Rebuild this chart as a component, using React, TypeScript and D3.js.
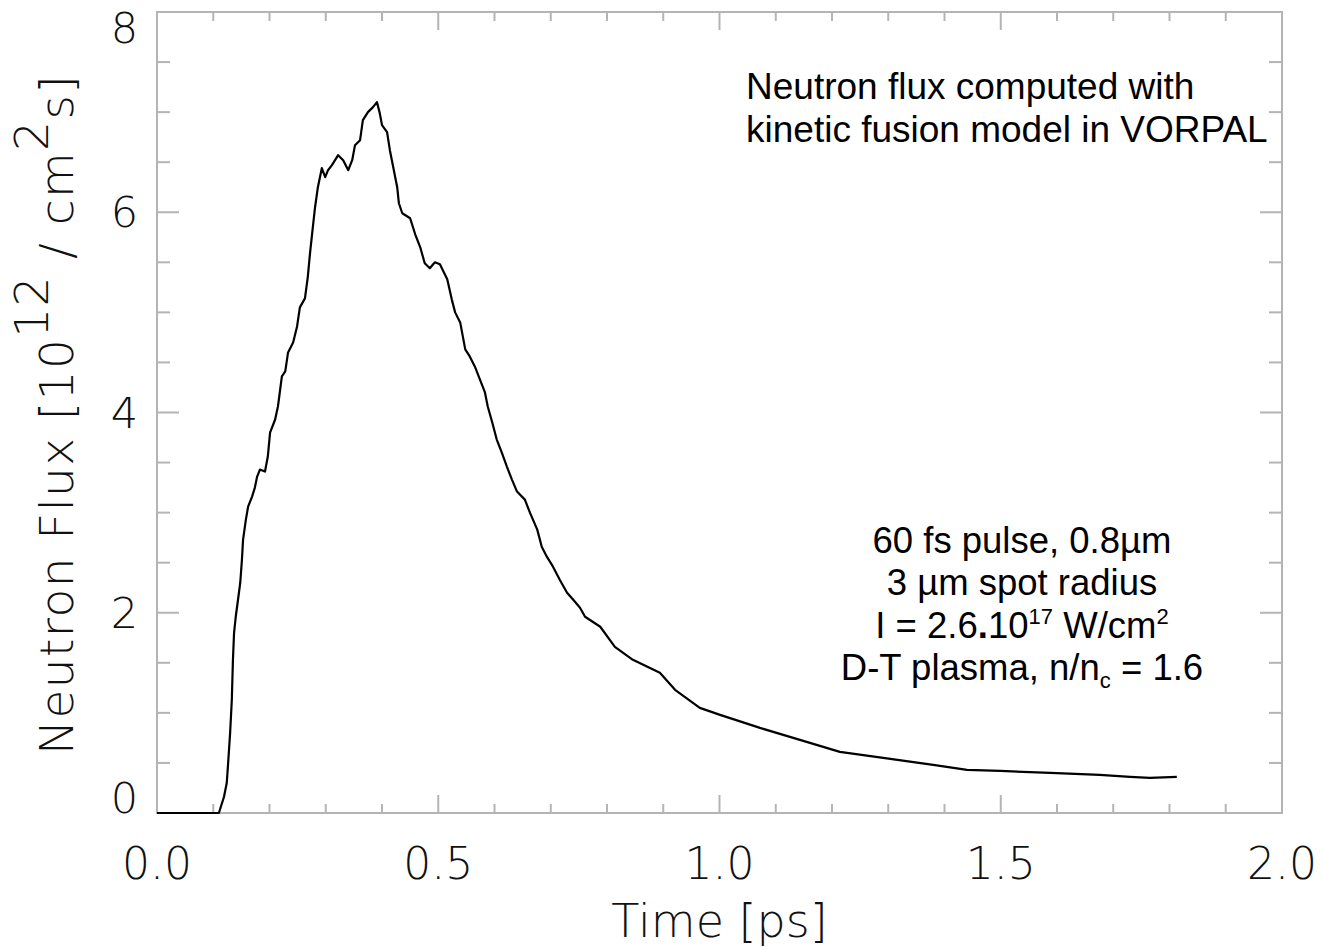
import React from "react";
import * as d3 from "d3";

const timePs = [0.0, 0.110, 0.119, 0.124, 0.126, 0.130, 0.133, 0.135, 0.137, 0.140, 0.144, 0.148, 0.151, 0.153, 0.158, 0.162, 0.169, 0.174, 0.178, 0.183, 0.192, 0.197, 0.201, 0.210, 0.215, 0.222, 0.228, 0.233, 0.242, 0.249, 0.254, 0.263, 0.268, 0.272, 0.277, 0.281, 0.286, 0.293, 0.299, 0.304, 0.311, 0.322, 0.331, 0.340, 0.347, 0.352, 0.361, 0.366, 0.375, 0.384, 0.391, 0.396, 0.400, 0.409, 0.414, 0.420, 0.427, 0.430, 0.436, 0.450, 0.459, 0.468, 0.476, 0.485, 0.494, 0.503, 0.516, 0.524, 0.530, 0.539, 0.548, 0.556, 0.565, 0.574, 0.583, 0.588, 0.596, 0.604, 0.613, 0.622, 0.631, 0.640, 0.654, 0.663, 0.676, 0.684, 0.693, 0.704, 0.716, 0.729, 0.740, 0.752, 0.761, 0.788, 0.814, 0.846, 0.894, 0.921, 0.965, 1.001, 1.072, 1.143, 1.214, 1.291, 1.380, 1.440, 1.499, 1.588, 1.676, 1.730, 1.765, 1.813];
const fluxValues = [0, 0, 0.16, 0.30, 0.46, 0.80, 1.13, 1.53, 1.80, 1.96, 2.13, 2.30, 2.53, 2.73, 2.93, 3.06, 3.16, 3.25, 3.36, 3.43, 3.41, 3.56, 3.80, 3.93, 4.06, 4.36, 4.41, 4.60, 4.70, 4.86, 5.05, 5.14, 5.35, 5.59, 5.85, 6.05, 6.25, 6.44, 6.35, 6.42, 6.47, 6.57, 6.52, 6.42, 6.52, 6.67, 6.72, 6.92, 7.00, 7.05, 7.10, 6.99, 6.87, 6.80, 6.62, 6.45, 6.25, 6.09, 5.99, 5.94, 5.78, 5.65, 5.49, 5.44, 5.50, 5.48, 5.33, 5.13, 5.00, 4.90, 4.63, 4.56, 4.46, 4.33, 4.20, 4.06, 3.90, 3.73, 3.60, 3.46, 3.33, 3.21, 3.13, 3.00, 2.83, 2.66, 2.56, 2.46, 2.33, 2.20, 2.13, 2.05, 1.96, 1.86, 1.66, 1.53, 1.40, 1.23, 1.05, 0.98, 0.85, 0.73, 0.61, 0.55, 0.48, 0.43, 0.42, 0.40, 0.38, 0.36, 0.35, 0.36];

const xMajorTicks = [0, 0.5, 1.0, 1.5, 2.0];
const xTickLabels = ["0.0", "0.5", "1.0", "1.5", "2.0"];
const yMajorTicks = [0, 2, 4, 6, 8];
const yTickLabels = ["0", "2", "4", "6", "8"];

const W = 1322, H = 949;
const L = 157, R = 1282, T = 12, B = 813;
const AX = "#b4b4b4";
const tickFont = "'DejaVu Sans', sans-serif";
const annFont = "'Liberation Sans', Arial, sans-serif";

export default function App() {
  const x = d3.scaleLinear().domain([0, 2]).range([L, R]);
  const y = d3.scaleLinear().domain([0, 8]).range([B, T]);
  const data = timePs.map((t, i) => [t, fluxValues[i]] as [number, number]);
  const line = d3.line<[number, number]>().x(d => x(d[0])).y(d => y(d[1]));

  const xMinor = d3.range(0, 2.0001, 0.1).filter(v => Math.abs(v * 2 - Math.round(v * 2)) > 1e-6);
  const yMinor = d3.range(0, 8.0001, 0.5).filter(v => Math.abs(v / 2 - Math.round(v / 2)) > 1e-6);

  return (
    <svg width={W} height={H} style={{ position: "absolute", left: 0, top: 0, background: "#fff" }}>
      <rect x={L} y={T} width={R - L} height={B - T} fill="none" stroke={AX} strokeWidth={2} />
      {xMajorTicks.map(v => (
        <g key={"xm" + v}>
          <line x1={x(v)} x2={x(v)} y1={B} y2={B - 18} stroke={AX} strokeWidth={2} />
          <line x1={x(v)} x2={x(v)} y1={T} y2={T + 18} stroke={AX} strokeWidth={2} />
        </g>
      ))}
      {xMinor.map(v => (
        <g key={"xn" + v}>
          <line x1={x(v)} x2={x(v)} y1={B} y2={B - 9} stroke={AX} strokeWidth={2} />
          <line x1={x(v)} x2={x(v)} y1={T} y2={T + 9} stroke={AX} strokeWidth={2} />
        </g>
      ))}
      {yMajorTicks.map(v => (
        <g key={"ym" + v}>
          <line x1={L} x2={L + 22} y1={y(v)} y2={y(v)} stroke={AX} strokeWidth={2} />
          <line x1={R} x2={R - 22} y1={y(v)} y2={y(v)} stroke={AX} strokeWidth={2} />
        </g>
      ))}
      {yMinor.map(v => (
        <g key={"yn" + v}>
          <line x1={L} x2={L + 13} y1={y(v)} y2={y(v)} stroke={AX} strokeWidth={2} />
          <line x1={R} x2={R - 13} y1={y(v)} y2={y(v)} stroke={AX} strokeWidth={2} />
        </g>
      ))}
      {xMajorTicks.map((v, i) => (
        <text key={"xl" + v} x={x(v)} y={879} textAnchor="middle" fontFamily={tickFont} fontWeight={200} fontSize={44} fill="#111">{xTickLabels[i]}</text>
      ))}
      {yMajorTicks.map((v, i) => {
        let yy = y(v) + 15;
        if (i === 0) yy = B;
        if (i === yMajorTicks.length - 1) yy = T + 31;
        return <text key={"yl" + v} x={138} y={yy} textAnchor="end" fontFamily={tickFont} fontWeight={200} fontSize={43} fill="#111">{yTickLabels[i]}</text>;
      })}
      <text x={(L + R) / 2} y={937} textAnchor="middle" fontFamily={tickFont} fontWeight={200} fontSize={46} fill="#111">Time [ps]</text>
      <text transform={`translate(73, ${(T + B) / 2 + 2}) rotate(-90)`} textAnchor="middle" fontFamily={tickFont} fontWeight={200} fontSize={47} letterSpacing={1.4} fill="#111">
        Neutron Flux [10<tspan dy={-25}>12</tspan><tspan dy={25}>{"\u00a0/\u00a0cm"}</tspan><tspan dy={-25}>2</tspan><tspan dy={25}>s]</tspan>
      </text>
      <path d={line(data) || ""} fill="none" stroke="#000" strokeWidth={2.2} strokeLinejoin="round" />
      <text x={746} y={99} fontFamily={annFont} fontSize={37} fill="#000">Neutron flux computed with</text>
      <text x={746} y={142} fontFamily={annFont} fontSize={37} fill="#000">kinetic fusion model in VORPAL</text>
      <g fontFamily={annFont} fontSize={36.5} fill="#000" textAnchor="middle">
        <text x={1022} y={553}>60 fs pulse, 0.8µm</text>
        <text x={1022} y={595}>3 µm spot radius</text>
        <text x={1022} y={638}>I = 2.6<tspan fontWeight="bold">.</tspan>10<tspan fontSize={22} dy={-14}>17</tspan><tspan dy={14}> W/cm</tspan><tspan fontSize={22} dy={-14}>2</tspan></text>
        <text x={1022} y={680}>D-T plasma, n/n<tspan fontSize={22} dy={8}>c</tspan><tspan dy={-8}> = 1.6</tspan></text>
      </g>
    </svg>
  );
}
